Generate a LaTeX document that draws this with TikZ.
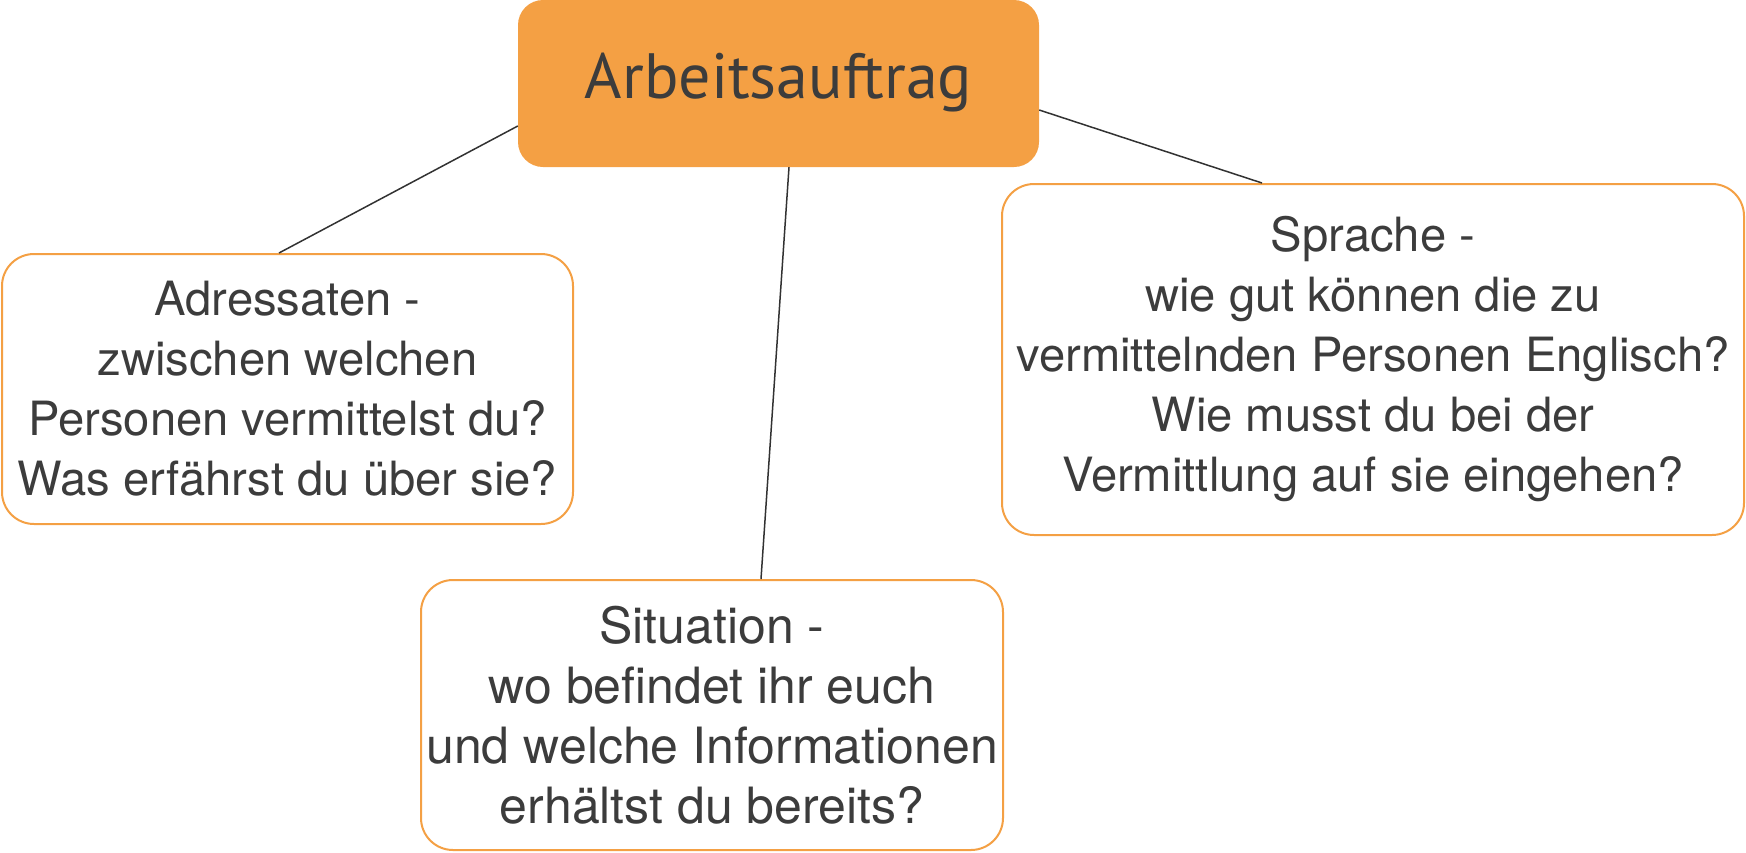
\documentclass[tikz,border=0pt]{standalone}
\usepackage{fontspec}
\setmainfont{TeX Gyre Heros}
\newfontfamily\titlefont{PT Sans}
\usepackage{tikz}

\definecolor{auftragorange}{RGB}{244,160,68}
\definecolor{textgray}{RGB}{60,60,60}
\definecolor{linegray}{RGB}{50,50,50}

\begin{document}
\begin{tikzpicture}[
      x=1pt, y=-1pt,
      topbox/.style={fill=auftragorange, rounded corners=25pt, text=textgray,
        minimum width=521pt, minimum height=167pt, inner sep=0pt,
        font=\titlefont\fontsize{64}{70}\selectfont, text height=49pt, text depth=20pt},
      infobox/.style={draw=auftragorange, line width=2pt, fill=white, rounded corners=32pt,
        text=textgray, align=center, inner sep=0pt,
        font=\fontsize{47.2}{60}\selectfont},
      link/.style={draw=linegray, line width=1.5pt}
    ]
    \useasboundingbox (0,0) rectangle (1746,852);

    % Main task and the three questions
    \node[topbox] (auftrag) at (778.5,83.5) {Arbeitsauftrag};
    \node[infobox, minimum width=571pt, minimum height=270pt] (adressaten) at (287.5,389)
      {Adressaten -\\ zwischen welchen\\ Personen vermittelst du?\\ Was erfährst du über sie?};
    \node[infobox, minimum width=582pt, minimum height=270pt,
      font=\fontsize{50}{60}\selectfont] (situation) at (712,715)
      {Situation -\\ wo befindet ihr euch\\ und welche Informationen\\ erhältst du bereits?};
    \node[infobox, minimum width=742pt, minimum height=351pt] (sprache) at (1373,359.5)
      {Sprache -\\ wie gut können die zu\\ vermittelnden Personen Englisch?\\ Wie musst du bei der\\ Vermittlung auf sie eingehen?};

    % Connect the task to each box
    \draw[link] ([yshift=-42.5pt]auftrag.west) -- ([xshift=-8.5pt]adressaten.north);
    \draw[link] ([xshift=10.5pt]auftrag.south) -- ([xshift=49pt]situation.north);
    \draw[link] ([yshift=-26.5pt]auftrag.east) -- ([xshift=-111pt]sprache.north);
  \end{tikzpicture}
\end{document}
